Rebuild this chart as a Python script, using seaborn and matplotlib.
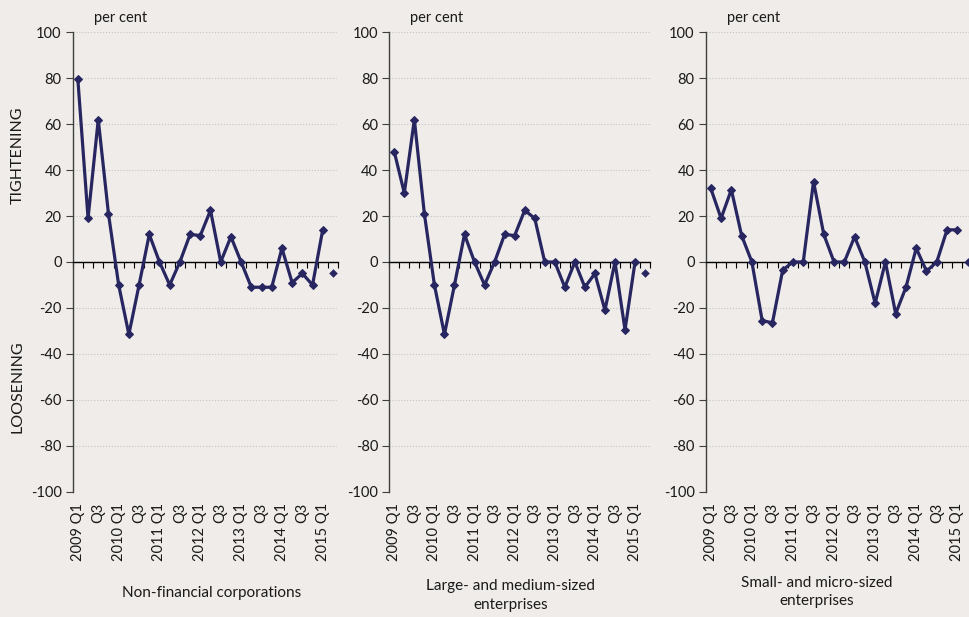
# ==========================
# Import Libraries
# ==========================
import numpy as np
import pandas as pd
import seaborn as sns
import matplotlib.pyplot as plt

# ==========================
# Data
# ==========================

# Quarters 2009 Q1 .. 2015 Q2
quarters = [f"{y} Q{q}" for y in range(2009, 2016) for q in range(1, 5)][:26]

# Net percentage of banks tightening credit standards, 2009 Q1 .. 2015 Q1
nonfin = [79.5, 19, 62, 21, -10, -31.5, -10, 12, 0, -10, 0, 12,
          11.5, 22.5, 0, 11, 0, -11, -11, -11, 6, -9, -5, -10, 14]
large = [48, 30, 62, 21, -10, -31.5, -10, 12, 0, -10, 0, 12,
         11.5, 22.5, 19, 0, 0, -11, 0, -11, -5, -21, 0, -29.5, 0]
small = [32, 19, 31.5, 11.5, 0, -25.5, -26.5, -3.5, 0, 0, 35, 12,
         0, 0, 11, 0, -18, 0, -22.5, -11, 6, -4, 0, 14, 14]

# Expectations for 2015 Q2 (single marker, not joined)
nonfin_expected = [-5]
large_expected = [-5]
small_expected = [0]

titles = ["Non-financial corporations",
          "Large- and medium-sized\nenterprises",
          "Small- and micro-sized\nenterprises"]

# Bottom tick labels: Q1 and Q3 only
tick_idx = list(range(0, 25, 2))
tick_labels = [quarters[i] if quarters[i].endswith("Q1") else "Q3" for i in tick_idx]

# ==========================
# Style
# ==========================
sns.set_theme(style="white")
plt.rcParams["font.family"] = ["Lato", "DejaVu Sans"]
plt.rcParams["axes.unicode_minus"] = False

bg = "#EFECE9"
navy = "#272660"
text_col = "#1A1A1A"

fig = plt.figure(figsize=(9.7, 6.17), dpi=100, facecolor=bg)

# axes rectangles [left, bottom, width, height]
rects = [[0.0750, 0.2031, 0.2735, 0.7446],
         [0.4013, 0.2031, 0.2689, 0.7446],
         [0.7275, 0.2031, 0.2753, 0.7446]]

series = [nonfin, large, small]
expected = [nonfin_expected, large_expected, small_expected]

# ==========================
# Panels
# ==========================
for rect, vals, exp in zip(rects, series, expected):
    ax = fig.add_axes(rect, facecolor=bg)

    df = pd.DataFrame({"quarter": quarters[:25], "value": vals})
    sns.lineplot(data=df, x="quarter", y="value", ax=ax, sort=False,
                 color=navy, linewidth=2.3, marker="D", markersize=4.5,
                 markeredgecolor=navy, zorder=4)
    sns.scatterplot(x=quarters[25:], y=exp, ax=ax, color=navy, marker="D",
                    s=16, edgecolor=navy, zorder=4)

    ax.set_xlim(-0.5, 25.5)
    ax.set_ylim(-100, 100)
    ax.set_yticks(range(-100, 101, 20))
    ax.set_xlabel("")
    ax.set_ylabel("")

    # dotted horizontal gridlines
    ax.yaxis.grid(True, linestyle=":", color="#C4C4C4", linewidth=0.8)
    ax.set_axisbelow(True)

    # spines: category axis crosses at zero
    ax.spines["top"].set_visible(False)
    ax.spines["right"].set_visible(False)
    ax.spines["left"].set_color("#404040")
    ax.spines["left"].set_linewidth(1.0)
    ax.spines["bottom"].set_position(("data", 0))
    ax.spines["bottom"].set_color("black")
    ax.spines["bottom"].set_linewidth(1.0)

    # tick marks on the zero line at category boundaries
    ax.set_xticks(np.arange(-0.5, 26, 1))
    ax.set_xticklabels([])
    ax.tick_params(axis="x", bottom=True, length=4, width=0.8,
                   direction="out", color="black")
    ax.tick_params(axis="y", left=True, length=5, width=0.8, color="#404040",
                   labelsize=10.5, labelcolor=text_col, pad=3)

    # category labels placed low, below the plot
    sec = ax.secondary_xaxis(0.0)
    sec.set_xticks(tick_idx)
    sec.set_xticklabels(tick_labels, rotation=90, fontsize=10.5, color=text_col)
    sec.tick_params(length=0, pad=8)
    sec.spines["bottom"].set_visible(False)

    # "per cent" unit label above the axis
    ax.text(0.18, 1.03, "per cent", transform=ax.transAxes, ha="center",
            va="center", fontsize=10.5, color=text_col)

# ==========================
# Figure texts
# ==========================
fig.text(0.018, 0.749, "TIGHTENING", rotation=90, ha="center", va="center",
         fontsize=11.5, color=text_col)
fig.text(0.018, 0.373, "LOOSENING", rotation=90, ha="center", va="center",
         fontsize=11.5, color=text_col)

title_pos = [(0.2186, 0.0389), (0.526, 0.0348), (0.842, 0.0405)]
for (x, y), t in zip(title_pos, titles):
    fig.text(x, y, t, ha="center", va="center", fontsize=11,
             color=text_col, linespacing=1.4)

fig.savefig("out.png", dpi=100, facecolor=bg)
